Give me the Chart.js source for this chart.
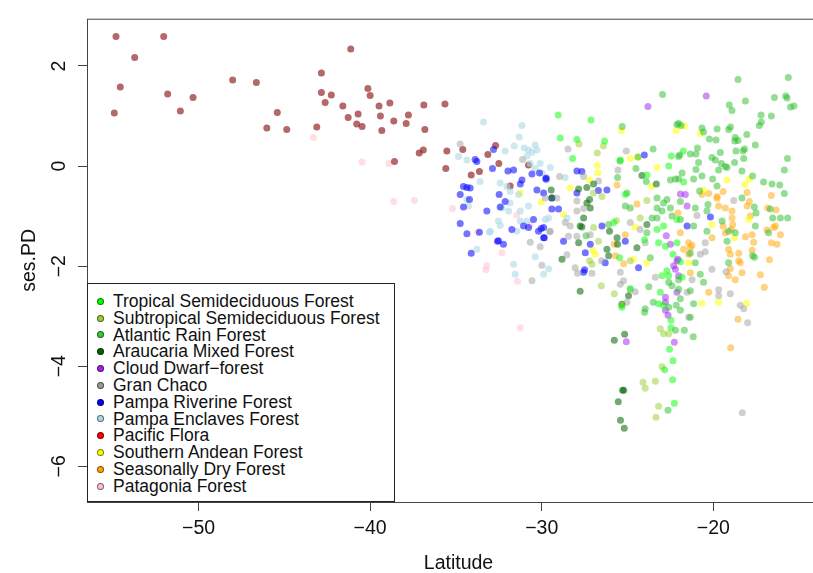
<!DOCTYPE html>
<html>
<head>
<meta charset="utf-8">
<script src="https://cdn.jsdelivr.net/npm/chart.js@4.4.1/dist/chart.umd.min.js"></script>
<style>
html, body { margin: 0; padding: 0; background: #fff; overflow: hidden; }
#wrap { position: relative; width: 850px; height: 573px; }
#legend {
    position: absolute; left: 87px; top: 283px; width: 308px; height: 219px;
    box-sizing: border-box; border: 1px solid #222; background: #fff;
    padding: 9px 0 0 9px;
    font-family: "Liberation Sans", Arial, sans-serif; font-size: 17.5px; color: #111;
}
.row { display: flex; align-items: center; height: 16.8px; line-height: 16.8px; white-space: nowrap; }
.dot { width: 5px; height: 5px; border-radius: 50%; border: 1px solid rgba(0,0,0,0.5); margin-right: 9px; flex: none; }
</style>
</head>
<body>
<div id="wrap">
    <canvas id="chart" width="850" height="573"></canvas>
    <div id="legend"></div>
</div>
<script>
// [latitude, ses.PD] per forest type
const tropicalSemideciduous = [[-29.04,1.02],[-27.13,0.92],[-28.92,0.56],[-27.95,0.53],[-26.34,0.50],[-28.20,0.15],[-22.60,0.00],[-22.45,0.20],[-23.87,-0.18],[-25.13,-0.57],[-25.42,0.12],[-21.75,0.30],[-21.73,-0.32],[-25.80,-1.13],[-23.19,-1.53],[-22.79,-1.60],[-23.28,-1.27],[-22.90,-1.20],[-22.70,-2.09],[-22.60,-2.19],[-25.33,-2.82],[-22.12,-1.07],[-25.46,-1.83],[-22.99,-2.19],[-23.09,-2.52],[-23.19,-2.75],[-22.90,-2.78],[-22.47,-3.08],[-22.47,-3.23],[-22.55,-3.66],[-22.35,-3.89],[-22.84,-4.07],[-22.37,-4.27],[-22.27,-4.74],[-24.84,-2.45],[-21.92,-1.91],[-21.82,-2.22],[-22.35,-1.76],[-22.12,-1.53],[-24.01,-1.47]];
const subtropicalSemideciduous = [[-27.83,0.44],[-26.40,0.40],[-26.76,0.26],[-26.98,-1.23],[-26.69,-1.50],[-27.21,-1.89],[-27.07,-1.96],[-24.84,-1.89],[-24.26,-1.04],[-26.53,-2.39],[-25.77,-2.55],[-25.33,-2.78],[-23.09,-3.25],[-22.90,-3.35],[-22.60,-3.35],[-22.99,-4.01],[-23.38,-4.30],[-24.10,-4.32],[-23.97,-4.44],[-23.19,-4.80],[-23.34,-5.02],[-26.98,-0.54],[-26.49,-0.61],[-23.87,-0.69],[-25.65,-1.09]];
const atlanticRain = [[-22.96,1.43],[-25.31,0.79],[-22.12,0.83],[-23.51,0.34],[-24.39,0.18],[-25.44,0.10],[-24.51,-0.05],[-25.58,-0.23],[-23.91,-0.31],[-22.50,-0.28],[-22.21,-0.26],[-21.96,0.22],
    [-18.56,1.73],[-15.63,1.77],[-16.44,1.37],[-15.78,1.40],[-15.70,1.36],[-18.13,1.30],[-19.07,1.22],[-18.91,1.11],[-15.50,1.18],[-15.30,1.20],[-17.22,1.02],[-16.62,1.00],[-17.20,0.88],[-17.32,0.81],[-22.02,0.85],[-21.88,0.81],[-20.66,0.76],[-20.57,0.68],[-19.78,0.74],[-19.00,0.78],[-19.11,0.73],[-20.23,0.54],[-19.84,0.52],[-18.05,0.63],[-18.72,0.57],[-18.75,0.50],[-18.56,0.51],[-17.55,0.42],[-20.92,0.36],[-21.34,0.24],[-21.01,0.24],[-22.02,0.19],[-19.59,0.27],[-18.68,0.30],[-18.18,0.34],[-18.27,0.30],[-20.08,0.17],[-19.88,0.12],[-20.86,0.07],[-19.53,0.05],[-19.30,-0.01],[-18.76,0.07],[-18.23,0.15],[-15.68,0.15],[-21.01,-0.07],[-19.69,-0.08],[-19.20,-0.03],[-21.82,-0.14],[-20.66,-0.20],[-18.33,-0.10],[-17.71,-0.20],[-15.86,-0.08],[-22.02,-0.26],[-21.15,-0.26],[-20.04,-0.26],[-17.07,-0.32],[-16.58,-0.36],[-16.13,-0.38],[-19.78,-0.40],[-20.80,-0.50],
    [-15.67,-1.04],[-16.09,-1.04],[-16.54,-1.04],[-16.68,-0.86],
    [-15.86,-0.55],[-18.33,-0.64],[-21.92,-0.71],[-21.05,-0.84],[-20.31,-0.77],[-20.37,-0.90],[-17.61,-0.82],[-17.51,-0.94],[-21.92,-1.07],[-19.49,-1.10],[-17.55,-1.20],[-16.78,-1.33],[-21.15,-1.20],[-20.37,-1.30],[-19.11,-1.30],[-19.20,-1.50],[-18.72,-1.33],[-17.71,-1.79],[-17.60,-1.82],[-21.34,-1.74],[-19.11,-1.93],[-21.05,-1.93],[-20.76,-2.16],[-22.02,-2.27],[-20.57,-2.32],[-21.34,-2.49],[-22.02,-2.46],[-21.15,-2.75],[-21.92,-2.65],
    [-25.13,-0.80],[-24.84,-0.84],[-26.10,-1.17],[-27.42,-1.39],[-23.28,-0.64],[-22.90,-0.74],[-22.70,-0.67],[-23.28,-0.84],[-22.99,-0.90],[-23.57,-1.04],[-23.28,-1.04],[-22.50,-0.84],[-22.41,-1.00],[-23.67,-1.83],[-23.76,-2.41],[-22.60,-2.32],[-22.41,-2.39],[-23.97,-2.85],[-23.50,-2.72],[-23.87,-1.33],
    [-24.01,-2.92],[-22.60,-2.82],[-21.92,-2.88],[-22.16,-2.78],[-21.34,-3.02],[-21.69,-3.28],[-21.17,-3.41],[-22.21,-3.28],[-22.64,-4.88],[-25.03,-0.54]];
const araucariaMixed = [[-24.16,-0.19],[-23.32,-0.36],[-26.98,-0.36],[-27.85,-0.46],[-27.37,-0.43],[-29.45,-0.48],[-29.41,-0.64],[-27.17,-0.84],[-27.56,-1.04],[-27.66,-1.22],[-27.85,-1.53],[-26.05,-1.30],[-26.20,-1.66],[-26.10,-1.79],[-25.61,-1.43],[-25.58,-1.56],[-28.82,-1.86],[-24.45,-1.63],[-23.87,-1.17],[-27.76,-2.50],[-24.94,-2.59],[-25.33,-2.76],[-25.77,-3.48],[-25.17,-3.36],[-25.29,-4.48],[-25.22,-4.48],[-25.54,-4.71],[-25.41,-5.08],[-25.19,-5.24],[-27.21,-0.67],[-27.37,-0.74],[-27.76,-1.20]];
const cloudDwarf = [[-23.81,1.19],[-20.41,1.40],[-21.92,-0.56],[-21.63,-0.57],[-21.53,-0.80],[-22.74,-1.39],[-22.50,-1.56],[-22.06,-1.86],[-22.12,-1.89],[-22.21,-2.06],[-22.31,-1.99],[-22.02,-2.19],[-22.12,-2.52],[-22.79,-2.72],[-22.79,-2.88],[-22.79,-2.62],[-22.64,-2.98],[-25.07,-3.51],[-22.27,-3.52]];
const granChaco = [[-28.47,0.34],[-25.07,0.30],[-25.56,-0.08],[-27.56,-0.21],[-26.69,-0.30],[-28.96,-0.21],[-34.75,0.44],[-31.12,0.13],[-30.57,-2.29],[-29.99,-1.98],[-30.09,-1.61],[-30.67,-1.52],[-29.54,-1.31],[-29.79,-0.64],[-29.12,-0.64],[-27.95,-0.70],[-27.56,-0.85],[-27.95,-0.90],[-28.34,-1.20],[-28.63,-1.13],[-29.50,-1.30],[-28.44,-1.40],[-27.95,-1.40],[-27.17,-1.37],[-26.51,-1.89],[-28.53,-1.77],[-28.05,-2.03],[-27.91,-2.14],[-27.07,-2.14],[-23.97,-1.53],[-25.42,-2.12],[-25.23,-2.29],[-24.84,-2.46],[-25.03,-2.72],[-23.38,-2.22],[-24.26,-1.27],[-24.84,-1.13],[-18.81,-0.69],[-20.95,-0.99],[-20.47,-1.53],[-20.76,-1.76],[-20.47,-1.71],[-20.08,-2.06],[-19.26,-2.11],[-21.24,-2.27],[-19.69,-2.47],[-19.01,-2.55],[-19.69,-2.59],[-21.53,-2.52],[-18.43,-2.78],[-18.23,-2.85],[-25.42,-2.36],[-24.55,-2.51],[-21.44,-3.02],[-18.31,-4.93],[-18.00,-3.13]];
const pampaRiverine = [[-33.88,0.13],[-33.78,0.09],[-32.81,0.33],[-32.87,-0.05],[-31.97,-0.10],[-31.64,-0.08],[-31.25,-0.36],[-31.15,-0.28],[-34.56,-0.41],[-34.36,-0.43],[-34.17,-0.44],[-34.75,-0.57],[-34.21,-0.67],[-32.48,-0.57],[-32.13,-0.71],[-30.57,-0.16],[-30.13,-0.14],[-30.28,-0.48],[-29.89,-0.54],[-34.56,-0.82],[-33.20,-0.90],[-32.42,-0.82],[-31.74,-1.27],[-34.75,-1.15],[-34.36,-1.35],[-33.63,-1.32],[-32.52,-1.49],[-31.06,-1.20],[-30.77,-1.23],[-30.48,-1.07],[-30.19,-1.30],[-34.11,-1.74],[-32.58,-1.50],[-32.23,-1.56],[-30.03,-1.25],[-29.89,-1.43],[-29.74,-0.24],
    [-27.95,-0.10],[-27.66,-0.11],[-29.76,-0.26],[-26.70,-0.49],[-26.20,-0.48],[-27.95,-0.54],[-24.02,0.22],
    [-29.41,-0.86],[-29.02,-0.86],[-29.89,-1.23],[-29.85,-1.43],[-28.73,-1.50],[-26.49,-1.20],[-27.17,-1.56],[-25.13,-1.50],[-26.30,-1.93],[-27.50,-2.07],[-24.36,-2.03],[-29.41,-0.64],
    [-20.17,-1.02],[-21.53,-1.20],[-27.46,-1.73],[-27.56,-2.12]];
const pampaEnclaves = [[-33.39,0.88],[-31.15,0.81],[-31.31,0.58],[-31.60,0.40],[-31.02,0.36],[-30.77,0.32],[-30.38,0.42],[-30.28,0.32],[-30.57,0.27],[-30.86,0.20],[-34.85,0.19],[-34.36,0.12],[-32.13,0.30],[-30.67,0.05],[-30.38,-0.05],[-30.09,0.05],[-29.99,-0.14],[-33.59,-0.31],[-32.42,-0.34],[-32.03,-0.41],[-31.84,-0.51],[-31.35,-0.57],[-30.77,-0.80],[-31.25,-0.90],[-31.93,-0.90],[-32.32,-0.84],[-31.84,-0.74],[-34.36,-0.67],[-34.27,-0.80],[-32.52,-1.10],[-32.42,-1.19],[-33.00,-1.30],[-31.25,-1.10],[-30.86,-1.10],[-31.45,-1.30],[-33.04,-1.32],[-31.64,-1.96],[-31.55,-2.16],[-29.89,-2.16],[-30.38,-1.81],[-33.78,-1.66],[-29.50,-0.03],[-28.63,-0.23],[-29.70,-0.28],[-29.79,-1.07],[-29.60,-2.05],[-28.53,-1.04],[-29.60,-1.04]];
const pacificFlora = [[-54.81,2.59],[-52.03,2.59],[-53.72,2.17],[-54.56,1.58],[-54.91,1.06],[-51.80,1.44],[-50.32,1.37],[-51.06,1.10],[-48.01,1.72],[-46.63,1.67],[-45.41,1.07],[-46.02,0.76],[-44.86,0.73],[-43.11,0.78],[-41.13,2.34],[-42.84,1.86],[-42.84,1.47],[-42.26,1.42],[-42.62,1.27],[-41.59,1.20],[-40.13,1.55],[-40.00,1.41],[-41.28,0.97],[-40.70,1.04],[-40.78,0.84],[-40.47,0.79],[-39.48,1.20],[-38.85,1.26],[-39.40,1.00],[-38.62,0.90],[-39.32,0.71],[-37.77,1.02],[-37.90,0.85],[-36.87,1.22],[-35.64,1.24],[-36.81,0.73],[-36.90,0.32],[-37.14,0.26],[-35.53,0.30],[-34.60,0.33],[-38.58,0.09],[-35.59,-0.05],[-33.14,0.23],[-32.69,0.41],[-32.50,0.05],[-33.63,-0.11],[-34.11,-0.18],[-31.84,-0.40],[-30.77,0.02]];
const southernAndean = [[-25.36,0.71],[-22.16,0.71],[-24.84,0.15],[-26.76,0.01],[-26.74,-0.14],[-23.28,-0.03],[-23.60,-0.41],[-27.21,-0.28],[-28.34,-0.44],[-24.39,0.18],[-21.69,0.80],[-20.76,0.65],[-19.20,-0.28],[-17.90,-0.26],[-18.15,-0.37],[-20.57,-0.48],[-28.73,-0.97],[-27.01,-1.68],[-26.88,-1.76],[-24.65,-1.86],[-23.87,-1.93],[-24.55,-1.22],[-20.08,-1.17],[-17.94,-1.07],[-18.76,-1.43],[-21.44,-1.93],[-19.69,-2.72],[-20.66,-2.74],[-18.05,-2.74],[-31.25,-0.54],[-30.03,-0.72]];
const seasonallyDry = [[-25.61,-0.38],[-19.43,-0.51],[-18.03,-0.53],[-16.62,-0.59],[-20.27,-0.55],[-19.78,-0.61],[-19.78,-0.65],[-17.90,-0.71],[-19.69,-0.80],[-19.30,-0.84],[-18.91,-0.90],[-16.83,-0.84],[-16.34,-0.88],[-22.06,-0.94],[-19.43,-1.20],[-18.91,-1.04],[-18.87,-1.17],[-18.95,-1.27],[-16.87,-1.28],[-16.48,-1.23],[-16.38,-1.20],[-16.09,-1.37],[-21.92,-1.33],[-20.08,-1.43],[-19.30,-1.33],[-18.13,-1.41],[-17.74,-1.37],[-17.65,-1.52],[-16.62,-1.53],[-16.29,-1.56],[-21.24,-1.58],[-21.44,-1.53],[-21.34,-1.63],[-19.11,-1.66],[-19.01,-1.76],[-17.74,-1.68],[-18.52,-1.74],[-18.52,-1.89],[-18.43,-1.93],[-16.73,-1.87],[-19.01,-2.05],[-18.33,-2.13],[-17.26,-2.17],[-21.34,-2.13],[-19.11,-2.19],[-18.72,-2.27],[-17.03,-2.42],[-20.27,-2.52],[-18.99,-3.63],[-18.56,-3.06],[-25.13,-1.37],[-25.77,-1.56],[-25.71,-1.79],[-25.23,-1.95],[-24.45,-0.76],[-20.66,-0.57],[-21.73,-1.66],[-21.44,-1.76],[-18.03,-0.80],[-17.84,-1.00]];
const patagonia = [[-43.30,0.57],[-40.47,0.08],[-38.91,0.05],[-38.62,-0.71],[-37.42,-0.69],[-35.20,-0.85],[-33.74,-1.32],[-31.45,-0.98],[-33.20,-1.99],[-33.26,-2.07],[-32.32,-1.73],[-31.41,-2.30],[-31.25,-3.23],[-30.67,-1.18]];

const categories = ['Tropical Semideciduous Forest', 'Subtropical Semideciduous Forest', 'Atlantic Rain Forest',
    'Araucaria Mixed Forest', 'Cloud Dwarf\u2212forest', 'Gran Chaco', 'Pampa Riverine Forest',
    'Pampa Enclaves Forest', 'Pacific Flora', 'Southern Andean Forest', 'Seasonally Dry Forest', 'Patagonia Forest'];
const series = [tropicalSemideciduous, subtropicalSemideciduous, atlanticRain, araucariaMixed, cloudDwarf,
    granChaco, pampaRiverine, pampaEnclaves, pacificFlora, southernAndean, seasonallyDry, patagonia];
const pointColors = ['rgba(0,255,0,0.5)', 'rgba(154,205,50,0.5)', 'rgba(40,190,40,0.5)', 'rgba(0,100,0,0.55)',
    'rgba(160,32,240,0.5)', 'rgba(160,160,160,0.5)', 'rgba(0,0,255,0.55)', 'rgba(173,216,230,0.6)',
    'rgba(150,40,40,0.7)', 'rgba(255,255,0,0.55)', 'rgba(255,165,0,0.5)', 'rgba(255,192,203,0.5)'];
const legendColors = ['#00ff00', '#9acd32', '#32cd32', '#006400', '#a020f0', '#999999',
    '#0000ff', '#add8e6', '#ff0000', '#ffff00', '#ffa500', '#ffc0cb'];
const xTicks = [-50, -40, -30, -20];
const yTicks = [-6, -4, -2, 0, 2];

const fontFamily = '"Liberation Sans", Arial, sans-serif';
const minus = v => (v < 0 ? '\u2212' + Math.abs(v) : String(v));

// box round the plot, like R's frame (right side runs past the window edge)
const framePlugin = {
    id: 'frame',
    afterDatasetsDraw(chart) {
        const { ctx, chartArea: a } = chart;
        ctx.save();
        ctx.strokeStyle = '#444';
        ctx.lineWidth = 1;
        ctx.strokeRect(a.left + 0.5, a.top + 0.5, a.right - a.left, a.bottom - a.top);
        ctx.restore();
    }
};

const chart = new Chart(document.getElementById('chart'), {
    type: 'scatter',
    data: {
        datasets: categories.map((name, i) => ({
            label: name,
            data: series[i].map(p => ({ x: p[0], y: p[1] })),
            backgroundColor: pointColors[i],
            borderWidth: 0,
            pointRadius: 3.5,
            pointHoverRadius: 3.5
        }))
    },
    options: {
        responsive: false,
        animation: false,
        devicePixelRatio: 1,
        layout: { padding: { top: 14, right: 20, left: 0, bottom: 0 } },
        plugins: { legend: { display: false }, tooltip: { enabled: false } },
        scales: {
            x: {
                type: 'linear', min: -56.5, max: -13.2,
                afterBuildTicks: s => { s.ticks = xTicks.map(v => ({ value: v })); },
                afterFit: s => { s.height = 71; },
                grid: { drawOnChartArea: false, drawTicks: true, tickLength: 9, color: '#444' },
                border: { display: false },
                ticks: { autoSkip: false, maxRotation: 0, padding: 6, color: '#111',
                    font: { family: fontFamily, size: 19.5 }, callback: v => minus(v) },
                title: { display: true, text: 'Latitude', color: '#111',
                    font: { family: fontFamily, size: 19.5, lineHeight: 1 }, padding: { top: 0, bottom: 0 } }
            },
            y: {
                type: 'linear', min: -6.713, max: 2.945,
                afterBuildTicks: s => { s.ticks = yTicks.map(v => ({ value: v })); },
                afterFit: s => { s.width = 87; },
                grid: { drawOnChartArea: false, drawTicks: true, tickLength: 9, color: '#444' },
                border: { display: false },
                ticks: { minRotation: 90, maxRotation: 90, crossAlign: 'center', padding: 7, color: '#111',
                    font: { family: fontFamily, size: 19.5 }, callback: v => minus(v) },
                title: { display: true, text: 'ses.PD', color: '#111',
                    font: { family: fontFamily, size: 19.5, lineHeight: 1 }, padding: { top: 20, bottom: 0 } }
            }
        }
    },
    plugins: [framePlugin]
});

// legend box in the lower left corner, built from the chart's datasets
const legendEl = document.getElementById('legend');
chart.data.datasets.forEach((ds, i) => {
    const row = document.createElement('div');
    row.className = 'row';
    const dot = document.createElement('span');
    dot.className = 'dot';
    dot.style.background = legendColors[i];
    row.appendChild(dot);
    row.appendChild(document.createTextNode(ds.label));
    legendEl.appendChild(row);
});
</script>
</body>
</html>
